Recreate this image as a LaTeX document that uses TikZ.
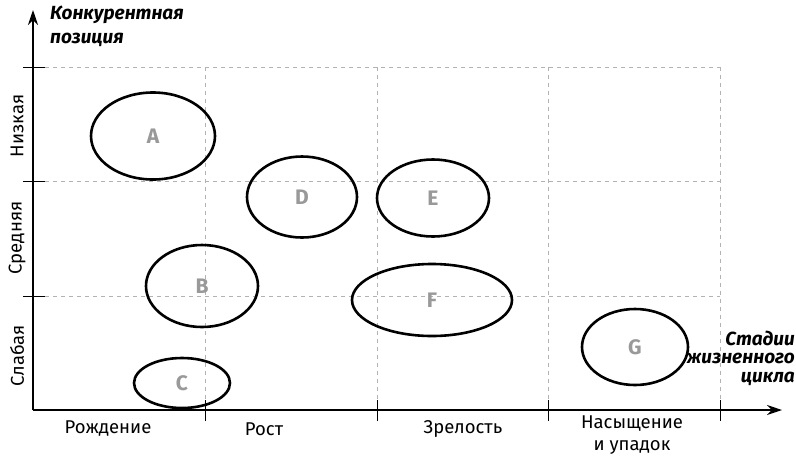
\documentclass[tikz,border=0pt]{standalone}
\usepackage{fontspec}
\setmainfont{Fira Sans}
\usetikzlibrary{shapes.geometric,arrows.meta}
\tikzset{
  grid/.style={dashed, dash pattern=on 4pt off 4pt, gray!60, line width=0.6pt},
  axis/.style={line width=1.2pt, -{Stealth[length=15pt,width=10pt]}},
  tickmark/.style={line width=1pt},
  stage/.style={ellipse, draw, line width=2.6pt, inner sep=0pt, font=\fontsize{21}{21}\selectfont\bfseries, text=gray!80},
  axlabel/.style={font=\fontsize{19}{22}\selectfont\bfseries\itshape, inner sep=0pt},
  catlabel/.style={font=\fontsize{18.5}{22}\selectfont, inner sep=0pt},
}
\begin{document}
\begin{tikzpicture}[x=1pt,y=-1pt]
\useasboundingbox (0,0) rectangle (796,459);
% grid
\coordinate (o) at (33,410);
\coordinate (ytop) at (33,10);
\coordinate (xend) at (782,410);
\foreach \y in {67,181,296} {
  \draw[grid] (45,\y) -- (720,\y);
  \draw[tickmark] (23,\y) -- (45,\y);
}
\foreach \x in {205,377,548,720} {
  \draw[grid] (\x,67) -- (\x,400);
  \draw[tickmark] (\x,400) -- (\x,421);
}
% axes
\draw[axis] (o) -- (ytop);
\draw[axis] (o) -- (xend);
% ellipses
\node[stage, minimum width=124, minimum height=87] (A) at (153,136) {A};
\node[stage, minimum width=110, minimum height=81] (D) at (302,197) {D};
\node[stage, minimum width=112, minimum height=77] (E) at (433,198) {E};
\node[stage, minimum width=112, minimum height=82] (B) at (202,286) {B};
\node[stage, minimum width=160, minimum height=72] (F) at (432,300) {F};
\node[stage, minimum width=96, minimum height=50] (C) at (182,383) {C};
\node[stage, minimum width=106, minimum height=76] (G) at (635,347) {G};
% axis labels
\node[axlabel, anchor=west] (yl1) at (50,15) {Конкурентная};
\node[axlabel, anchor=west] (yl2) at (50,40) {позиция};
\node[axlabel, anchor=east] (xl1) at (795,338) {Стадии};
\node[axlabel, anchor=east] (xl2) at (795,358) {жизненного};
\node[axlabel, anchor=east] (xl3) at (795,379) {цикла};
% category labels
\node[catlabel, rotate=90] (n1) at (17,126) {Низкая};
\node[catlabel, rotate=90] (n2) at (17,238) {Средняя};
\node[catlabel, rotate=90] (n3) at (17,356) {Слабая};
\node[catlabel] (s1) at (108,429) {Рождение};
\node[catlabel] (s2) at (264,429) {Рост};
\node[catlabel] (s3) at (463,429) {Зрелость};
\node[catlabel, align=center] (s4) at (632,435) {Насыщение\\и упадок};
\end{tikzpicture}
\end{document}
